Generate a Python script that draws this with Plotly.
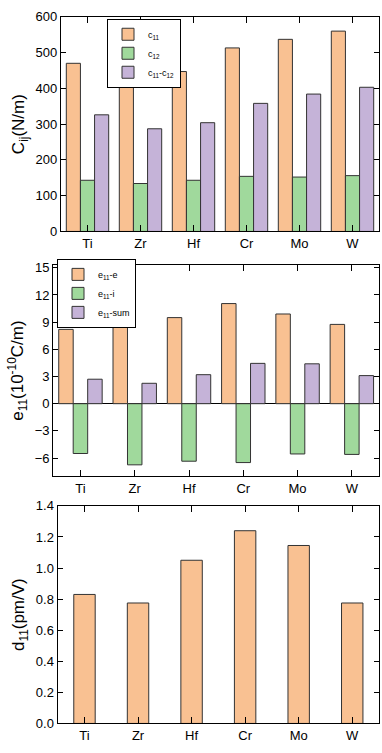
import plotly.graph_objects as go

metals = ["Ti", "Zr", "Hf", "Cr", "Mo", "W"]

c11 = [470, 422, 447, 513, 537, 560]
c12 = [143, 134, 143, 154, 152, 156]
c11_c12 = [326, 287, 304, 358, 384, 403]

e11_e = [8.2, 8.9, 9.5, 11.05, 9.9, 8.75]
e11_i = [-5.5, -6.75, -6.35, -6.5, -5.55, -5.6]
e11_sum = [2.7, 2.25, 3.2, 4.45, 4.4, 3.1]

d11 = [0.83, 0.775, 1.05, 1.24, 1.145, 0.775]

ORANGE = "#F9C192"
GREEN = "#A0D99C"
PURPLE = "#C5B3D8"
EDGE = "#333333"
FONT = "Liberation Sans, Arial, sans-serif"

W, H = 382, 753


def px_x(a, b):
    return [a / W, b / W]


def px_y(top, bottom):
    return [1 - bottom / H, 1 - top / H]


fig = go.Figure()

bar_line = dict(color=EDGE, width=1)

fig.add_trace(go.Bar(x=metals, y=c11, name="c<sub>11</sub>", marker=dict(color=ORANGE, line=bar_line),
                     xaxis="x", yaxis="y", legend="legend"))
fig.add_trace(go.Bar(x=metals, y=c12, name="c<sub>12</sub>", marker=dict(color=GREEN, line=bar_line),
                     xaxis="x", yaxis="y", legend="legend"))
fig.add_trace(go.Bar(x=metals, y=c11_c12, name="c<sub>11</sub>-c<sub>12</sub>",
                     marker=dict(color=PURPLE, line=bar_line), xaxis="x", yaxis="y", legend="legend"))

fig.add_trace(go.Bar(x=metals, y=e11_e, name="e<sub>11</sub>-e", marker=dict(color=ORANGE, line=bar_line),
                     xaxis="x2", yaxis="y2", legend="legend2"))
fig.add_trace(go.Bar(x=metals, y=e11_i, name="e<sub>11</sub>-i", marker=dict(color=GREEN, line=bar_line),
                     xaxis="x2", yaxis="y2", legend="legend2"))
fig.add_trace(go.Bar(x=metals, y=e11_sum, name="e<sub>11</sub>-sum", marker=dict(color=PURPLE, line=bar_line),
                     xaxis="x2", yaxis="y2", legend="legend2"))

fig.add_trace(go.Bar(x=metals, y=d11, marker=dict(color=ORANGE, line=bar_line), width=0.4,
                     xaxis="x3", yaxis="y3", showlegend=False))

axis_common = dict(showline=True, linecolor="black", linewidth=1.3, mirror="ticks",
                   ticks="inside", tickcolor="black", tickwidth=1.3, showgrid=False,
                   tickfont=dict(family=FONT, size=13, color="black"))

xcommon = dict(axis_common, ticklen=6)
ycommon = dict(axis_common, ticklen=5, zeroline=False)
title_font = dict(family=FONT, size=17, color="black")

fig.update_layout(
    width=W, height=H,
    margin=dict(l=0, r=0, t=0, b=0),
    paper_bgcolor="white", plot_bgcolor="white",
    barmode="group", bargap=0.2, bargroupgap=0,
    font=dict(family=FONT, color="black"),
    xaxis=dict(xcommon, domain=px_x(61, 379), anchor="y"),
    yaxis=dict(ycommon, domain=px_y(10, 229), anchor="x", range=[0, 600], dtick=100,
               title=dict(text="C<sub>ij</sub>(N/m)", font=title_font, standoff=6)),
    xaxis2=dict(xcommon, domain=px_x(53.3, 379), anchor="y2"),
    yaxis2=dict(ycommon, domain=px_y(263.3, 478.7), anchor="x2", range=[-8, 15.3],
                tickvals=[-6, -3, 0, 3, 6, 9, 12, 15], zeroline=True, zerolinecolor="black",
                zerolinewidth=1.3,
                title=dict(text="e<sub>11</sub>(10<sup>-10</sup>C/m)", font=title_font, standoff=6)),
    xaxis3=dict(xcommon, domain=px_x(57.7, 379), anchor="y3"),
    yaxis3=dict(ycommon, domain=px_y(509, 731), anchor="x3", range=[0, 1.4], dtick=0.2,
                tickformat=".1f",
                title=dict(text="d<sub>11</sub>(pm/V)", font=title_font, standoff=6)),
    legend=dict(x=107 / W, y=1 - 12 / H, xanchor="left", yanchor="top",
                bordercolor="black", borderwidth=1, bgcolor="white", itemwidth=30,
                font=dict(family=FONT, size=9, color="black"), tracegroupgap=0),
    legend2=dict(x=57 / W, y=1 - 257 / H, xanchor="left", yanchor="top",
                 bordercolor="black", borderwidth=1, bgcolor="white", itemwidth=30,
                 font=dict(family=FONT, size=9, color="black"), tracegroupgap=0),
)

# the page's default body margin would push the figure off the window
fig.write_html("out.html", config={"displayModeBar": False},
               post_script="document.body.style.margin='0';")
